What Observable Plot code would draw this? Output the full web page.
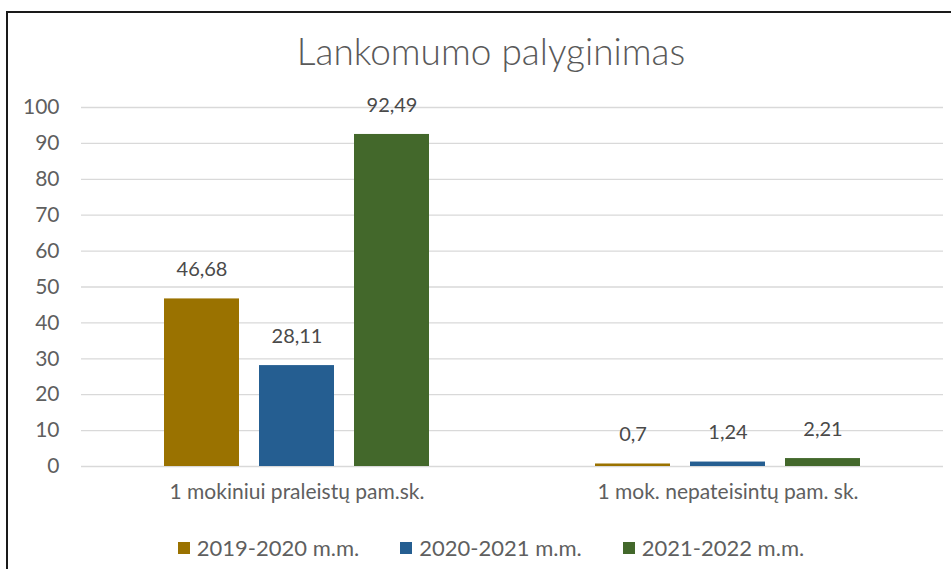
<!DOCTYPE html>
<html>
<head>
<meta charset="utf-8">
<script src="https://cdn.jsdelivr.net/npm/d3@7"></script>
<script src="https://cdn.jsdelivr.net/npm/@observablehq/plot@0.6"></script>
<style>
  html, body { margin: 0; padding: 0; background: #fff; overflow: hidden; width: 951px; height: 569px; }
  body { font-family: Lato, "Open Sans", sans-serif; color: #595959; position: relative; }
  #frame { position: absolute; left: 6px; top: 11px; width: 990px; height: 620px; border: 2px solid #1a1a1a; box-sizing: border-box; pointer-events: none; }
  #title { position: absolute; left: 6px; width: 970px; top: 29px; text-align: center; font-size: 37px; font-weight: 300; color: #595959; line-height: 44px; }
  #chart { position: absolute; left: 0; top: 80px; }
  #legend { position: absolute; left: 6px; width: 970px; top: 535px; display: flex; justify-content: center; gap: 41px; font-size: 22px; color: #5f5f5f; line-height: 26px; }
  #legend .item { display: flex; align-items: center; gap: 7px; }
  #legend .sw { width: 12px; height: 12px; display: inline-block; }
</style>
</head>
<body>
<div id="title">Lankomumo palyginimas</div>
<div id="chart"></div>
<div id="legend"></div>
<div id="frame"></div>
<script>
const categories = ["1 mokiniui praleistų pam.sk.", "1 mok. nepateisintų pam. sk."];
const seriesNames = ["2019-2020 m.m.", "2020-2021 m.m.", "2021-2022 m.m."];
const seriesColors = ["#9a7200", "#255e91", "#43682b"];
const values2019 = [46.68, 0.7];
const values2020 = [28.11, 1.24];
const values2021 = [92.49, 2.21];
const yTicks = [0, 10, 20, 30, 40, 50, 60, 70, 80, 90, 100];

const seriesValues = [values2019, values2020, values2021];
const data = [];
categories.forEach((c, i) => {
  seriesNames.forEach((s, j) => {
    data.push({category: c, series: s, value: seriesValues[j][i]});
  });
});
const fmt = v => String(v).replace(".", ",");

const chart = Plot.plot({
  width: 951,
  height: 440,
  marginLeft: 80,
  marginRight: 8,
  marginTop: 27,
  marginBottom: 54,
  style: {fontFamily: "Lato, 'Open Sans', sans-serif", fontSize: "21px", color: "#5f5f5f", background: "transparent"},
  fx: {domain: categories, padding: 0, label: null, axis: null},
  x: {domain: seriesNames, paddingInner: 0.21, paddingOuter: 0.86, axis: null},
  y: {domain: [0, 100], ticks: yTicks, label: null},
  color: {domain: seriesNames, range: seriesColors},
  marks: [
    Plot.ruleY(yTicks, {stroke: "#d9d9d9", strokeWidth: 1.3}),
    Plot.axisY({ticks: yTicks, tickSize: 0, tickPadding: 22, fontSize: 21, fill: "#5f5f5f", label: null}),
    Plot.axisFx({anchor: "bottom", tickSize: 0, tickPadding: 18, fontSize: 21, fill: "#5f5f5f", label: null}),
    Plot.barY(data, {fx: "category", x: "series", y: "value", fill: "series"}),
    Plot.text(data, {fx: "category", x: "series", y: "value", text: d => fmt(d.value), dy: -29, fontSize: 20, fill: "#4a4a4a"})
  ]
});
document.getElementById("chart").appendChild(chart);

const legend = document.getElementById("legend");
seriesNames.forEach((s, i) => {
  const item = document.createElement("div");
  item.className = "item";
  const sw = document.createElement("span");
  sw.className = "sw";
  sw.style.background = seriesColors[i];
  const t = document.createElement("span");
  t.textContent = s;
  item.appendChild(sw);
  item.appendChild(t);
  legend.appendChild(item);
});
</script>
</body>
</html>
